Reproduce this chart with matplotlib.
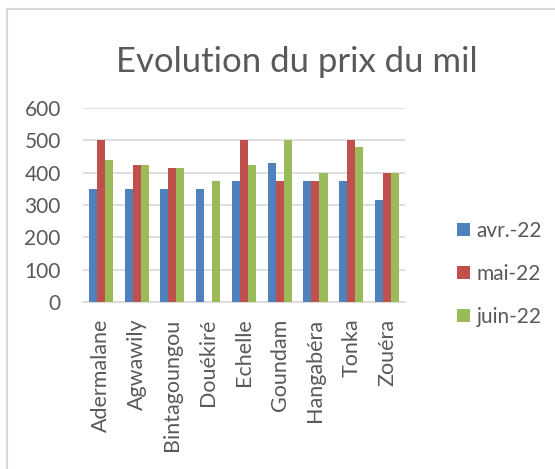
import matplotlib.pyplot as plt
import numpy as np
from matplotlib.patches import Rectangle

plt.rcParams['font.family'] = ['Lato', 'DejaVu Sans']

villes = ["Adermalane", "Agwawily", "Bintagoungou", "Douékiré", "Echelle",
          "Goundam", "Hangabéra", "Tonka", "Zouéra"]
avr = [350, 350, 350, 350, 375, 430, 375, 375, 315]
mai = [500, 425, 415, 0, 500, 375, 375, 500, 400]
juin = [440, 425, 415, 375, 425, 500, 400, 480, 400]
mois = ["avr.-22", "mai-22", "juin-22"]
couleurs = ["#4f81bd", "#c0504d", "#9bbb59"]
gris = "#595959"

fig = plt.figure(figsize=(5.55, 4.69), dpi=100)
ax = fig.add_axes([0.1495, 0.356, 0.580, 0.4136])

x = np.arange(len(villes))
w = 0.225
for k, (serie, lab, c) in enumerate(zip([avr, mai, juin], mois, couleurs)):
    ax.bar(x + (k - 1) * w, serie, width=w, color=c, label=lab, zorder=3)

ax.set_xlim(-0.5, len(villes) - 0.5)
ax.set_ylim(0, 600)
ax.set_yticks(range(0, 601, 100))
ax.set_xticks(x)
ax.set_xticklabels(villes, rotation=90)
ax.grid(axis='y', color="#d9d9d9", linewidth=1.2, zorder=0)
for s in ['top', 'right', 'left']:
    ax.spines[s].set_visible(False)
ax.spines['bottom'].set_color("#d9d9d9")
ax.spines['bottom'].set_linewidth(1.2)
ax.tick_params(axis='y', length=0, pad=16, labelsize=15, labelcolor=gris)
ax.tick_params(axis='x', length=0, pad=12, labelsize=15.5, labelcolor=gris)

fig.text(297 / 555, 1 - 72 / 469, "Evolution du prix du mil", fontsize=25,
         color=gris, ha='center', va='baseline')

fig.legend(loc='center left', bbox_to_anchor=(0.805, 0.416), frameon=False,
           fontsize=15, labelcolor=gris, borderpad=0, labelspacing=1.1,
           handlelength=0.63, handleheight=0.63, handletextpad=0.3)

fig.patches.append(Rectangle((7 / 555, -0.1), 1.2, 1 - 9 / 469 + 0.1,
                             transform=fig.transFigure, fill=False,
                             edgecolor="#d9d9d9", linewidth=1.5))

fig.savefig("out.png", dpi=100)
